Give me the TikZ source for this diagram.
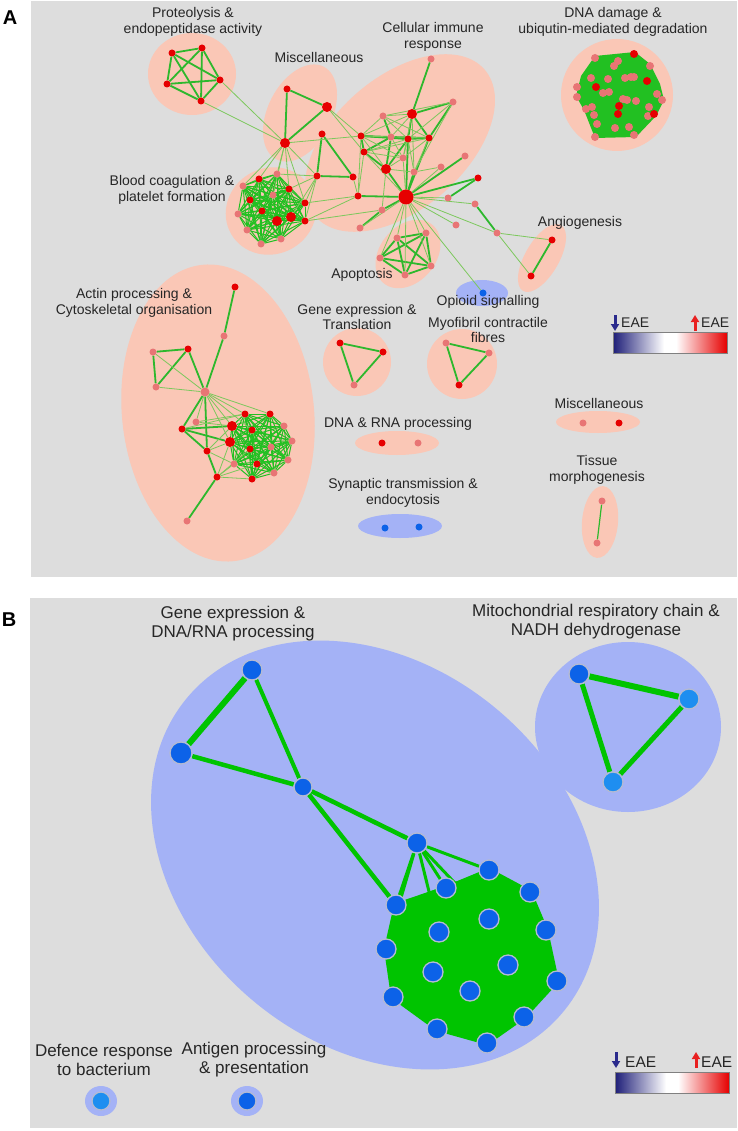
\documentclass[tikz,border=0pt]{standalone}
\usepackage{fontspec}
\setmainfont{Liberation Sans}
\usetikzlibrary{arrows.meta}
\pgfdeclarelayer{regions}
\pgfdeclarelayer{links}
\pgfsetlayers{regions,links,main}
\definecolor{panel}{HTML}{DDDDDD}
\definecolor{upreg}{HTML}{FAC7B6}
\definecolor{dnreg}{HTML}{A4B2F6}
\definecolor{egreen}{HTML}{2DB82D}
\definecolor{mgreen}{HTML}{22C022}
\definecolor{lgreen}{HTML}{7CC85C}
\definecolor{bgreen}{HTML}{00C400}
\definecolor{hired}{HTML}{E60000}
\definecolor{lored}{HTML}{E87575}
\definecolor{dblue}{HTML}{0C62E8}
\definecolor{lblue}{HTML}{1E8EF0}
\definecolor{rim}{HTML}{B4BAD2}
\definecolor{txt}{HTML}{262626}
\definecolor{navy}{HTML}{1E1E78}
\definecolor{darrow}{HTML}{2A2A8C}
\definecolor{uarrow}{HTML}{E82020}

\begin{document}
\begin{tikzpicture}[x=1pt, y=-1pt,
  hi/.style={circle, fill=hired, inner sep=0pt, minimum size=7pt},
  lo/.style={circle, fill=lored, inner sep=0pt, minimum size=7pt},
  hib/.style={hi, minimum size=10pt},
  hub/.style={hi, minimum size=15pt},
  dn/.style={circle, fill=dblue, inner sep=0pt, minimum size=7pt},
  bn/.style={circle, fill=dblue, draw=rim, line width=1.3pt, inner sep=0pt, minimum size=20pt},
  bl/.style={bn, fill=lblue},
  link/.style={draw=egreen, line width=1.8pt},
  weak/.style={draw=lgreen, line width=0.8pt},
  mesh/.style={draw=mgreen, line width=1pt},
  fat/.style={draw=bgreen, line width=4.5pt},
  bmesh/.style={draw=bgreen, line width=1.5pt},
  ureg/.style={fill=upreg},
  dreg/.style={fill=dnreg},
  lab/.style={align=center, text=txt, inner sep=0pt, font=\fontsize{14}{15.5}\selectfont},
  labb/.style={lab, font=\fontsize{17}{19}\selectfont},
  dnarrow/.style={darrow, line width=3pt, -{Triangle[length=7pt, width=8pt]}},
  uparrow/.style={uarrow, line width=3pt, -{Triangle[length=7pt, width=8pt]}}]
\useasboundingbox (0,0) rectangle (737,1131);

\begin{pgfonlayer}{regions}
\fill[panel] (31,1) rectangle (737,577);
\fill[panel] (30,598) rectangle (737,1128);
\fill[ureg] (192,74) ellipse [x radius=44pt, y radius=41pt];
\fill[ureg] (300,113) ellipse [x radius=52pt, y radius=32pt, rotate=63];
\fill[ureg] (400,143) ellipse [x radius=112pt, y radius=66pt, rotate=41];
\fill[ureg] (271,211) ellipse [x radius=46pt, y radius=43pt, rotate=30];
\fill[ureg] (408,254) ellipse [x radius=38pt, y radius=28pt, rotate=50];
\fill[ureg] (542,258) ellipse [x radius=38pt, y radius=17pt, rotate=60];
\fill[ureg] (617,95) circle [radius=56pt];
\fill[ureg] (218,413) ellipse [x radius=96pt, y radius=149pt, rotate=6];
\fill[ureg] (357,362) circle [radius=34pt];
\fill[ureg] (462,364) circle [radius=35pt];
\fill[ureg] (397,443) ellipse [x radius=42pt, y radius=12pt];
\fill[ureg] (598,422) ellipse [x radius=42pt, y radius=11pt];
\fill[ureg] (600,522) ellipse [x radius=18pt, y radius=36pt, rotate=-5];
\fill[dreg] (482,293) ellipse [x radius=26pt, y radius=13pt];
\fill[dreg] (400,526) ellipse [x radius=42pt, y radius=12pt];
\fill[dreg] (375,855) ellipse [x radius=245pt, y radius=190pt, rotate=-40];
\fill[dreg] (628,727) ellipse [x radius=93pt, y radius=85pt];
\fill[dreg] (101,1101) ellipse [x radius=16pt, y radius=15pt];
\fill[dreg] (247,1101) ellipse [x radius=16pt, y radius=15pt];
\fill[mgreen] (595,56) -- (635,52) -- (650,64) -- (660,84) -- (664,100) -- (656,116)
  -- (636,137) -- (595,138) -- (584,110) -- (576,96) -- (581,76) -- cycle;
\end{pgfonlayer}

\foreach \n/\x/\y in {p1/172/53, p2/202/48, p3/167/84, p4/220/80, p5/201/101,
  m1/287/89, c1/322/134, c2/317/176, c3/353/177, c4/358/196, c6/361/136,
  c7/364/152, c10/408/139, c11/429/138, c24/478/178, g1/552/240, g2/531/276,
  b1/259/179, b4/289/189, b6/250/200, b7/305/203, b8/262/211, b12/305/221,
  t1/235/287, t4/188/349, t7/182/429, t9/207/451, t10/217/477,
  s1/245/414, s2/270/414, s4/252/430, s7/250/449, s11/257/464, s14/252/479,
  e1/340/343, e2/383/352, f3/459/385, r1/382/443, x2/619/423}
  \node[hi] (\n) at (\x,\y) {};
\foreach \n/\x/\y in {c5/360/228, c8/383/116, c9/391/137, c13/431/59, c14/453/102,
  c15/403/158, c17/414/172, c18/441/167, c19/465/156, c21/382/210, c22/448/198,
  c23/456/225, c25/475/204, c26/497/233,
  a1/397/238, a2/426/233, a3/380/258, a4/431/266, a5/405/275,
  b2/277/174, b3/243/186, b5/273/195, b9/238/214, b13/247/230, b14/261/244, b15/281/239,
  t2/224/336, t3/153/352, t5/156/387, t8/196/422, t11/187/521,
  s5/284/426, s8/271/447, s9/292/441, s10/234/464, s12/288/460, s13/274/473,
  e3/354/385, f1/446/343, f2/489/353, r2/418/443, x1/583/423, z1/602/501, z2/597/543}
  \node[lo] (\n) at (\x,\y) {};
\foreach \n/\x/\y in {m2/327/107, m3/285/143, c12/412/114, c16/386/169,
  b10/277/221, b11/291/217, s3/232/426, s6/230/442}
  \node[hib] (\n) at (\x,\y) {};
\node[lo, minimum size=9pt] (t6) at (205,392) {};
\node[hub] (c20) at (406,197) {};
\node[dn] (o1) at (483,293) {};
\node[dn] (y1) at (385,528) {};
\node[dn] (y2) at (419,527) {};

\foreach \x/\y [count=\i] in {595/58, 618/61, 614/66, 650/66, 591/78, 608/79, 625/78,
  631/77, 634/77, 577/87, 577/97, 603/93, 609/92, 623/99, 627/100, 636/101, 657/94,
  662/100, 586/109, 592/107, 594/115, 649/107, 648/116, 597/124, 615/128, 629/127,
  595/137, 634/135}
  \node[lo, minimum size=8pt] (dl\i) at (\x,\y) {};
\foreach \x/\y [count=\i] in {634/54, 647/81, 596/87, 619/106, 618/114, 654/114}
  \node[hi, minimum size=8pt] (dh\i) at (\x,\y) {};

\node[bn] (q1) at (252,670) {};
\node[bn, minimum size=22pt] (q2) at (181,753) {};
\node[bn, minimum size=18pt] (q3) at (303,787) {};
\node[bn] (q4) at (417,843) {};
\foreach \x/\y [count=\i] in {489/870, 446/888, 530/892, 396/905, 489/919, 439/932,
  546/930, 386/949, 508/965, 433/972, 557/981, 470/991, 393/997, 524/1017,
  437/1029, 487/1043}
  \node[bn] (k\i) at (\x,\y) {};
\node[bn] (n1) at (579,674) {};
\node[bl] (n2) at (689,699) {};
\node[bl] (n3) at (613,782) {};
\node[bl, minimum size=18pt] (h1) at (101,1101) {};
\node[bn, minimum size=18pt] (h2) at (247,1101) {};

\begin{pgfonlayer}{links}
\foreach \i in {1,...,4} {
  \pgfmathtruncatemacro\nx{\i+1}
  \foreach \j in {\nx,...,5} {\draw[link] (p\i) -- (p\j); \draw[link] (a\i) -- (a\j);}
}
\foreach \i in {1,...,14} {
  \pgfmathtruncatemacro\nx{\i+1}
  \foreach \j in {\nx,...,15} \draw[mesh] (b\i) -- (b\j);
}
\foreach \i in {1,...,13} {
  \pgfmathtruncatemacro\nx{\i+1}
  \foreach \j in {\nx,...,14} \draw[mesh] (s\i) -- (s\j);
}
\foreach \u/\v in {m1/m2, m1/m3, m2/m3, c1/c2, c1/c3, c2/c3, c4/c20, c5/c21, c21/c20,
  c6/c7, c6/c9, c6/c10, c7/c16, c7/c9, c8/c9, c9/c10, c9/c11, c9/c16, c10/c11,
  c10/c12, c10/c16, c10/c20, c11/c12, c11/c14, c11/c20, c12/c13, c12/c14, c16/c20,
  c17/c20, c19/c20, c20/c24, c22/c24, c25/c26, g1/g2, e1/e2, e1/e3, e2/e3,
  f1/f2, f1/f3, f2/f3, t1/t2, t2/t6, t3/t4, t3/t5, t4/t5, t4/t6, t6/t7, t6/t9,
  t7/s3, t7/s6, t7/t9, t9/t10, t10/t11}
  \draw[link] (\u) -- (\v);
\foreach \u/\v in {p4/m3, p5/m3, m3/b1, m3/b2, m3/b3, m3/b4, m3/b5, m3/b7, m3/c2,
  m3/c6, m2/c6, m2/c7, c2/b2, c2/b4, c2/b7, c2/b11, c2/b12, c3/c4, c4/b7, c4/b12,
  c4/c7, c4/c6, c5/c20, c6/c8, c6/c12, c6/c11, c6/c16, c6/c15, c7/c10, c7/c20,
  c7/c15, c7/c11, c8/c12, c8/c10, c8/c11, c8/c14, c9/c12, c9/c15, c10/c15, c10/c17,
  c11/c17, c11/c15, c12/c15, c12/c17, c14/c17, c14/c10, c15/c16, c15/c20, c16/c21,
  c16/c17, c18/c20, c18/c17, c20/c22, c20/c23, c20/c25, c20/c26, c20/a1, c20/a2,
  c20/a3, c20/a4, c20/a5, c20/o1, c26/g1, c26/g2, b12/c21,
  t3/t6, t5/t6, t6/s1, t6/s2, t6/s3, t6/s4, t6/s6, t6/t8, t7/s1, t8/s1, t8/s3,
  t9/s6, t9/s3, t9/s10, t10/s10, t10/s14, t10/s11, t10/s7, t10/s6}
  \draw[weak] (\u) -- (\v);
\draw[link, line width=1.2pt] (z1) -- (z2);

\fill[bgreen] (k4.center) -- (k2.center) -- (k1.center) -- (k3.center) -- (k7.center)
  -- (k11.center) -- (k14.center) -- (k16.center) -- (k15.center) -- (k13.center)
  -- (k8.center) -- cycle;
\draw[bgreen, line width=4pt, line join=round] (k4.center) -- (k2.center) -- (k1.center)
  -- (k3.center) -- (k7.center) -- (k11.center) -- (k14.center) -- (k16.center)
  -- (k15.center) -- (k13.center) -- (k8.center) -- cycle;
\foreach \i in {1,...,15} {
  \pgfmathtruncatemacro\nx{\i+1}
  \foreach \j in {\nx,...,16} \draw[bmesh] (k\i) -- (k\j);
}
\draw[fat, line width=6pt] (q1) -- (q2);
\draw[fat, line width=4pt] (q1) -- (q3);
\draw[fat] (q2) -- (q3);
\draw[fat] (q3) -- (q4);
\draw[fat] (q3) -- (k4);
\foreach \v in {k4, k2, k1, k6, k5, k8}
  \draw[fat, line width=3pt] (q4) -- (\v);
\draw[fat, line width=6pt] (n1) -- (n2);
\draw[fat, line width=5pt] (n1) -- (n3);
\draw[fat, line width=5pt] (n2) -- (n3);
\end{pgfonlayer}

\node[font=\fontsize{20}{20}\bfseries\selectfont] (pa) at (10,18) {A};
\node[font=\fontsize{20}{20}\bfseries\selectfont] (pb) at (9,620) {B};
\node[lab] (lprot) at (193,22) {Proteolysis \&\\endopeptidase activity};
\node[lab] (lmisc) at (319,58) {Miscellaneous};
\node[lab] (lcell) at (433,37) {Cellular immune\\response};
\node[lab] (ldna) at (613,22) {DNA damage \&\\ubiqutin-mediated degradation};
\node[lab] (lcoag) at (172,190) {Blood coagulation \&\\platelet formation};
\node[lab] (langio) at (580,223) {Angiogenesis};
\node[lab] (lapop) at (362,275) {Apoptosis};
\node[lab] (lopi) at (488,302) {Opioid signalling};
\node[lab] (lactin) at (134,303) {Actin processing \&\\Cytoskeletal organisation};
\node[lab] (lgene) at (357,317) {Gene expression \&\\Translation};
\node[lab] (lmyo) at (488,330) {Myofibril contractile\\fibres};
\node[lab] (lrna) at (398,424) {DNA \& RNA processing};
\node[lab] (lsyn) at (403,493) {Synaptic transmission \&\\endocytosis};
\node[lab] (lmisc2) at (599,403) {Miscellaneous};
\node[lab] (ltis) at (597,470) {Tissue\\morphogenesis};
\node[labb] (lgex) at (233,624) {Gene expression \&\\DNA/RNA processing};
\node[labb] (lmito) at (596,622) {Mitochondrial respiratory chain \&\\NADH dehydrogenase};
\node[labb] (ldef) at (104,1060) {Defence response\\to bacterium};
\node[labb] (lanti) at (254,1060) {Antigen processing\\\& presentation};

\draw[dnarrow] (615,315) -- (615,331);
\draw[uparrow] (695,331) -- (695,315);
\node[lab, anchor=west] (ea1) at (621,323) {EAE};
\node[lab, anchor=west] (ea2) at (701,323) {EAE};
\shade[left color=navy, right color=white] (613,332) rectangle (664,353);
\fill[white] (664,332) rectangle (676,353);
\shade[left color=white, right color=hired] (676,332) rectangle (727,353);
\draw[gray, line width=1pt] (613,332) rectangle (727,353);

\draw[dnarrow] (616,1052) -- (616,1068);
\draw[uparrow] (696,1068) -- (696,1052);
\node[lab, font=\fontsize{15.5}{17}\selectfont, anchor=west] (eb1) at (625,1062) {EAE};
\node[lab, font=\fontsize{15.5}{17}\selectfont, anchor=west] (eb2) at (701,1062) {EAE};
\shade[left color=navy, right color=white] (615,1072) rectangle (666,1093);
\fill[white] (666,1072) rectangle (678,1093);
\shade[left color=white, right color=hired] (678,1072) rectangle (729,1093);
\draw[gray, line width=1pt] (615,1072) rectangle (729,1093);
\end{tikzpicture}
\end{document}
